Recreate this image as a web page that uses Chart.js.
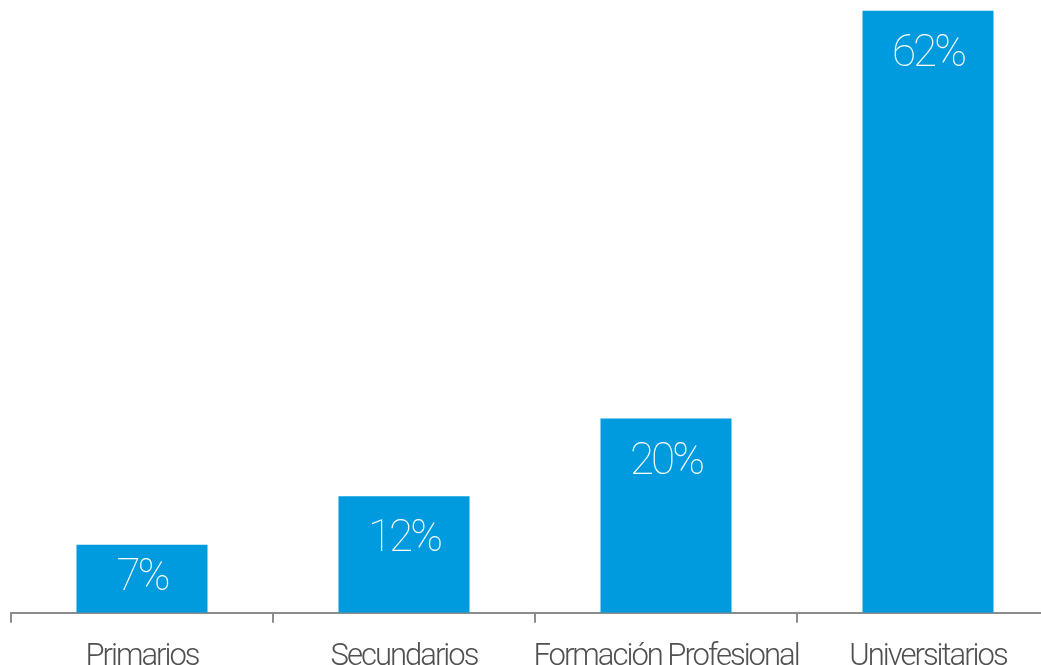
<!DOCTYPE html>
<html lang="es">
<head>
    <meta charset="UTF-8">
    <title>Nivel de estudios</title>
    <script src="https://cdn.jsdelivr.net/npm/chart.js"></script>
    <style>
        * {
            margin: 0;
            padding: 0;
            box-sizing: border-box;
        }
        body {
            background: white;
            width: 1041px;
            height: 665px;
            overflow: hidden;
        }
        .chart-container {
            width: 1059px;
            height: 700px;
        }
    </style>
</head>
<body>
    <div class="chart-container">
        <canvas id="studiesChart"></canvas>
    </div>

    <script>
        // Nivel de estudios (%)
        const categories = ["Primarios", "Secundarios", "Formación Profesional", "Universitarios"];
        const percentages = [7, 12, 20, 62];
        const valueLabels = ["7%", "12%", "20%", "62%"];

        // writes the percentage inside the top of every bar
        const barLabels = {
            id: "barLabels",
            afterDatasetsDraw(chart) {
                const ctx = chart.ctx;
                const meta = chart.getDatasetMeta(0);
                ctx.save();
                ctx.fillStyle = "#ffffff";
                ctx.font = "100 44px Roboto, 'Open Sans', sans-serif";
                ctx.letterSpacing = "-3px";
                ctx.textAlign = "center";
                ctx.textBaseline = "top";
                meta.data.forEach((bar, i) => {
                    // short bars: keep the text inside the bar
                    const y = Math.min(bar.y + 22, bar.base - 56);
                    ctx.fillText(valueLabels[i], bar.x, y);
                });
                ctx.restore();
            }
        };

        // condensed look for the category labels
        const tightText = {
            id: "tightText",
            beforeDraw(chart) {
                chart.ctx.letterSpacing = "-2px";
            }
        };

        new Chart(document.getElementById("studiesChart"), {
            type: "bar",
            data: {
                labels: categories,
                datasets: [{
                    data: percentages,
                    backgroundColor: "#009bde",
                    borderWidth: 0,
                    barPercentage: 0.5,
                    categoryPercentage: 1.0
                }]
            },
            options: {
                responsive: true,
                maintainAspectRatio: false,
                animation: false,
                layout: {
                    padding: { left: 11, right: 0, top: 1, bottom: 8 }
                },
                plugins: {
                    legend: { display: false },
                    tooltip: { enabled: false }
                },
                scales: {
                    x: {
                        border: { color: "#8c8c8c", width: 2 },
                        grid: {
                            display: true,
                            drawOnChartArea: false,
                            drawTicks: true,
                            tickLength: 10,
                            color: "#8c8c8c",
                            lineWidth: 2
                        },
                        ticks: {
                            color: "#505050",
                            padding: 16,
                            maxRotation: 0,
                            autoSkip: false,
                            font: { family: "Roboto, 'Open Sans', sans-serif", size: 31, weight: 300 }
                        }
                    },
                    y: {
                        display: false,
                        min: 0,
                        max: 63
                    }
                }
            },
            plugins: [tightText, barLabels]
        });
    </script>
</body>
</html>
